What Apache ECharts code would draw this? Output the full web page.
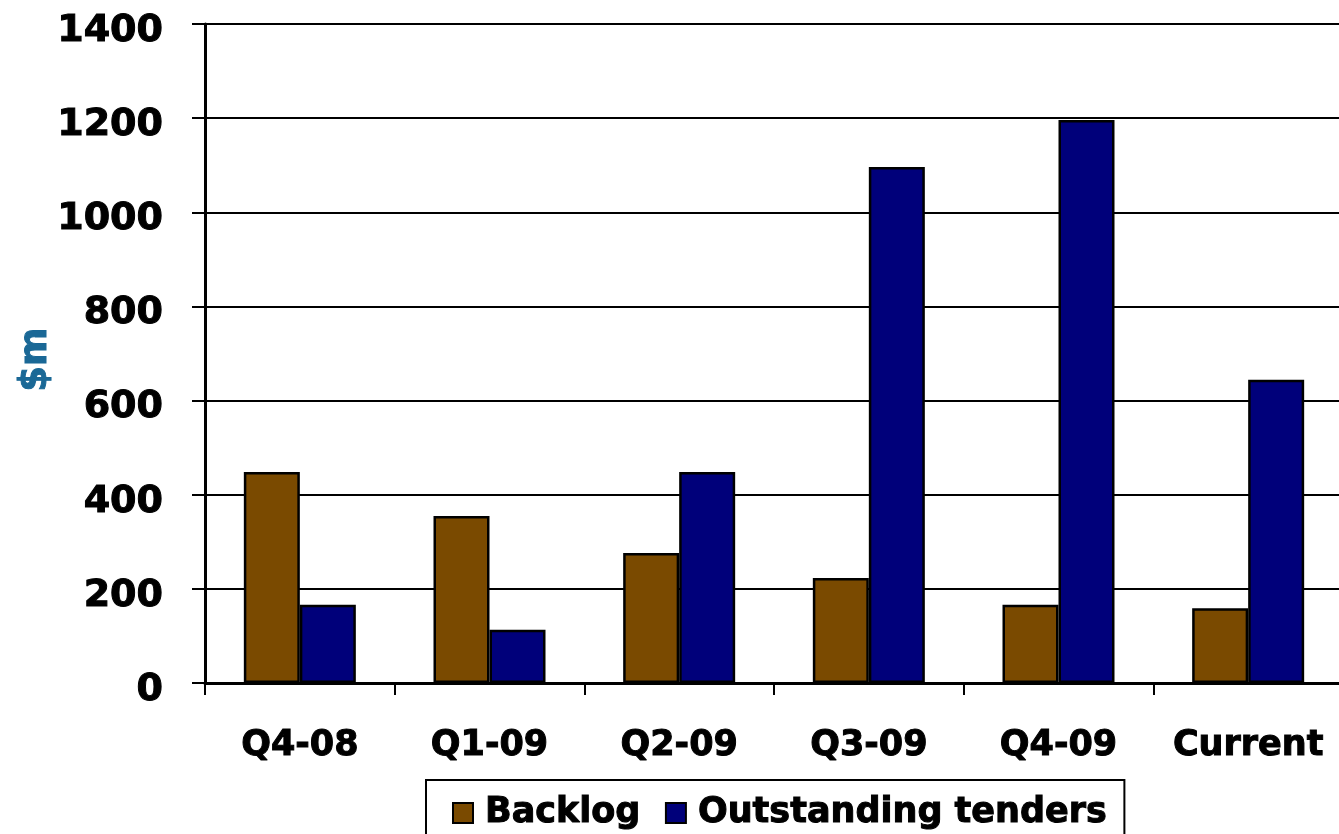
<!DOCTYPE html>
<html>
<head>
<meta charset="utf-8">
<title>Backlog and outstanding tenders</title>
<script src="https://cdn.jsdelivr.net/npm/echarts@6/dist/echarts.min.js"></script>
<style>
  html, body { margin: 0; padding: 0; background: #ffffff; }
  #chart { width: 1339px; height: 834px; }
</style>
</head>
<body>
<div id="chart"></div>
<script>
// Quarter labels along the bottom
const categories = ['Q4-08', 'Q1-09', 'Q2-09', 'Q3-09', 'Q4-09', 'Current'];
// $m values per quarter
const backlog = [448, 355, 276, 223, 166, 159];
const outstandingTenders = [166, 113, 448, 1096, 1196, 644];
const seriesNames = ['Backlog', 'Outstanding tenders'];

const FONT = '"DejaVu Sans", Verdana, sans-serif';
// heavy black lettering: bold face plus a thin outline in the fill colour
const heavy = { fontFamily: FONT, fontWeight: 'bold', color: '#000000', textBorderColor: '#000000', textBorderWidth: 1 };

const chart = echarts.init(document.getElementById('chart'));

chart.setOption({
  animation: false,
  backgroundColor: '#ffffff',
  textStyle: { fontFamily: FONT },
  grid: { left: 205, right: -4, top: 24, bottom: 151, containLabel: false, outerBoundsMode: 'none' },
  legend: {
    data: seriesNames,
    left: 426,
    top: 780,
    padding: [15, 17, 30, 26],
    borderColor: '#000000',
    borderWidth: 2,
    itemWidth: 20,
    itemHeight: 20,
    itemGap: 24,
    icon: 'rect',
    itemStyle: { borderColor: '#000000', borderWidth: 2 },
    textStyle: Object.assign({}, heavy, { fontSize: 35, padding: [0, 0, 0, 7] })
  },
  xAxis: {
    type: 'category',
    data: categories,
    boundaryGap: true,
    axisLine: { show: true, lineStyle: { color: '#000000', width: 3 } },
    axisTick: { show: true, alignWithLabel: false, length: 12, lineStyle: { color: '#000000', width: 2 } },
    axisLabel: Object.assign({}, heavy, { interval: 0, fontSize: 35, margin: 45 }),
    splitLine: { show: false }
  },
  yAxis: {
    type: 'value',
    min: 0,
    max: 1400,
    interval: 200,
    name: '$m',
    nameLocation: 'middle',
    nameGap: 150,
    nameRotate: 90,
    nameMoveOverlap: false,
    nameTextStyle: {
      fontFamily: FONT, fontWeight: 'bold', fontSize: 37, color: '#1a6896',
      textBorderColor: '#1a6896', textBorderWidth: 1, padding: [0, 12, 0, 0]
    },
    axisLine: { show: true, lineStyle: { color: '#000000', width: 3 } },
    axisTick: { show: true, inside: false, length: 13, lineStyle: { color: '#000000', width: 2 } },
    axisLabel: Object.assign({}, heavy, {
      fontSize: 38, margin: 42,
      formatter: function (v) { return '{v|' + v + '}'; },
      rich: { v: Object.assign({}, heavy, { fontSize: 38, padding: [14, 0, 0, 0] }) }
    }),
    splitLine: { show: true, lineStyle: { color: '#000000', width: 2 } }
  },
  series: [
    {
      name: seriesNames[0],
      type: 'bar',
      data: backlog,
      barWidth: 56,
      barGap: '0%',
      itemStyle: { color: '#7a4a00', borderColor: '#000000', borderWidth: 2.5 }
    },
    {
      name: seriesNames[1],
      type: 'bar',
      data: outstandingTenders,
      barWidth: 56,
      barGap: '0%',
      itemStyle: { color: '#00007a', borderColor: '#000000', borderWidth: 2.5 }
    }
  ]
});
</script>
</body>
</html>
